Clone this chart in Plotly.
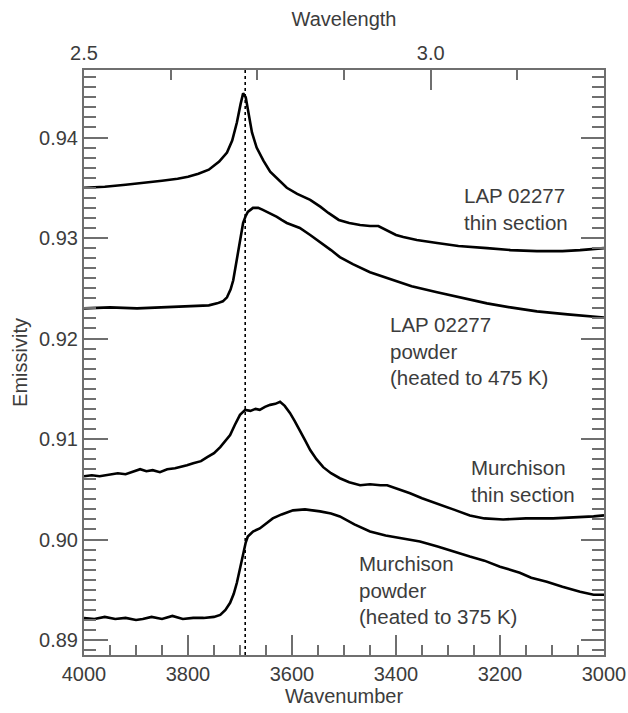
import plotly.graph_objects as go

# ---------------- data ----------------
lap_ts_wn = [4000, 3960, 3920, 3880, 3850, 3820, 3800, 3780, 3760, 3740, 3725, 3715, 3706, 3699,
             3694, 3689, 3684, 3677, 3668, 3655, 3642, 3625, 3610, 3590, 3565, 3545, 3530, 3510,
             3490, 3469, 3450, 3434, 3420, 3400, 3386, 3360, 3321, 3280, 3225, 3180, 3129, 3080,
             3046, 3020, 3000]
lap_ts_em = [0.9350, 0.9351, 0.9353, 0.9355, 0.9357, 0.9359, 0.9361, 0.9364, 0.9368, 0.9376, 0.9385,
             0.9397, 0.9415, 0.9433, 0.9444, 0.9440, 0.9425, 0.9405, 0.9390, 0.9377, 0.9366, 0.9357,
             0.9350, 0.9344, 0.9338, 0.9331, 0.9325, 0.9318, 0.9315, 0.9313, 0.9312, 0.9312, 0.9308,
             0.9303, 0.9301, 0.9298, 0.9295, 0.9292, 0.9290, 0.9288, 0.9287, 0.9287, 0.9288, 0.9289,
             0.9290]

lap_pw_wn = [4000, 3950, 3898, 3850, 3790, 3760, 3744, 3733, 3725, 3718, 3713, 3708, 3704, 3698,
             3694, 3689, 3685, 3675, 3665, 3656, 3640, 3629, 3620, 3610, 3600, 3585, 3565, 3546,
             3525, 3508, 3483, 3450, 3417, 3370, 3321, 3270, 3225, 3180, 3129, 3070, 3000]
lap_pw_em = [0.9230, 0.9231, 0.9230, 0.9231, 0.9232, 0.9233, 0.9235, 0.9237, 0.9241, 0.9249, 0.9258,
             0.9272, 0.9285, 0.9303, 0.9315, 0.9322, 0.9326, 0.9330, 0.9330, 0.9328, 0.9324, 0.9321,
             0.9318, 0.9315, 0.9313, 0.9310, 0.9303, 0.9296, 0.9288, 0.9281, 0.9274, 0.9266, 0.9260,
             0.9252, 0.9246, 0.9240, 0.9235, 0.9231, 0.9227, 0.9224, 0.9221]

mur_ts_wn = [4000, 3985, 3970, 3950, 3935, 3920, 3905, 3892, 3880, 3868, 3854, 3840, 3825, 3815,
             3802, 3790, 3775, 3763, 3750, 3738, 3728, 3719, 3710, 3700, 3690, 3680, 3670, 3662,
             3652, 3642, 3632, 3623, 3614, 3604, 3595, 3585, 3575, 3565, 3553, 3540, 3525, 3508,
             3490, 3469, 3450, 3430, 3417, 3395, 3373, 3350, 3321, 3290, 3258, 3230, 3194, 3150,
             3098, 3050, 3020, 3000]
mur_ts_em = [0.9063, 0.9064, 0.9063, 0.9065, 0.9066, 0.9065, 0.9068, 0.9070, 0.9068, 0.9069, 0.9067,
             0.9070, 0.9071, 0.9072, 0.9074, 0.9076, 0.9078, 0.9082, 0.9086, 0.9092, 0.9098, 0.9104,
             0.9114, 0.9124, 0.9129, 0.9128, 0.9130, 0.9129, 0.9132, 0.9134, 0.9135, 0.9137, 0.9133,
             0.9126, 0.9118, 0.9109, 0.9099, 0.9089, 0.9080, 0.9072, 0.9066, 0.9061, 0.9057, 0.9054,
             0.9055, 0.9054, 0.9054, 0.9050, 0.9046, 0.9041, 0.9036, 0.9030, 0.9024, 0.9021, 0.9020,
             0.9021, 0.9021, 0.9022, 0.9023, 0.9024]

mur_pw_wn = [4000, 3980, 3960, 3940, 3920, 3900, 3887, 3870, 3850, 3830, 3810, 3790, 3770, 3750,
             3738, 3728, 3719, 3712, 3706, 3700, 3694, 3689, 3685, 3675, 3662, 3650, 3637, 3620,
             3598, 3575, 3555, 3546, 3525, 3508, 3480, 3450, 3420, 3390, 3354, 3320, 3290, 3258,
             3230, 3200, 3162, 3140, 3125, 3110, 3080, 3046, 3020, 3000]
mur_pw_em = [0.8922, 0.8921, 0.8923, 0.8921, 0.8922, 0.8920, 0.8921, 0.8923, 0.8921, 0.8924, 0.8921,
             0.8922, 0.8922, 0.8923, 0.8925, 0.8930, 0.8937, 0.8946, 0.8957, 0.8972, 0.8987, 0.8997,
             0.9003, 0.9008, 0.9011, 0.9016, 0.9021, 0.9025, 0.9029, 0.9030, 0.9029, 0.9028, 0.9026,
             0.9023, 0.9015, 0.9008, 0.9004, 0.9001, 0.8998, 0.8993, 0.8988, 0.8983, 0.8979, 0.8973,
             0.8967, 0.8962, 0.8960, 0.8958, 0.8953, 0.8948, 0.8945, 0.8945]

series_names = ["LAP 02277 thin section", "LAP 02277 powder", "Murchison thin section", "Murchison powder"]

label_texts = ["LAP 02277<br>thin section",
               "LAP 02277<br>powder<br>(heated to 475 K)",
               "Murchison<br>thin section",
               "Murchison<br>powder<br>(heated to 375 K)"]
label_wn = [3273, 3415, 3260, 3475]
label_em = [0.9329, 0.9188, 0.90582, 0.8950]

reference_wn = 3690

wn_ticks = [4000, 3800, 3600, 3400, 3200, 3000]
wn_minor_step = 50
em_ticks = [0.89, 0.90, 0.91, 0.92, 0.93, 0.94]
em_minor_step = 0.001
wl_ticks = [2.5, 3.0]
wl_minor_per_major = 4

x_range = [4000, 3000]
y_range = [0.88851, 0.94672]

# ---------------- derived tick positions ----------------
wn_minor = [w for w in range(x_range[0], x_range[1] - 1, -wn_minor_step) if w not in wn_ticks]
n_em = int(round((y_range[1] - y_range[0]) / em_minor_step)) + 2
em_minor = []
for i in range(n_em):
    v = round(0.888 + i * em_minor_step, 3)
    if y_range[0] <= v <= y_range[1] and all(abs(v - t) > 1e-9 for t in em_ticks):
        em_minor.append(v)
wl_pos = [10000.0 / w for w in wl_ticks]
step = (wl_pos[0] - wl_pos[1]) / wl_minor_per_major
wl_minor = []
v = wl_pos[0] - step
while v >= x_range[1] - 1e-6:
    if abs(v - wl_pos[1]) > 1e-6:
        wl_minor.append(v)
    v -= step

# ---------------- figure ----------------
AX = "#6f6f6f"
TXT = "#3c3c3c"
FONT = "Arial, Liberation Sans, sans-serif"

fig = go.Figure()
for wn, em, name in [(lap_ts_wn, lap_ts_em, series_names[0]),
                     (lap_pw_wn, lap_pw_em, series_names[1]),
                     (mur_ts_wn, mur_ts_em, series_names[2]),
                     (mur_pw_wn, mur_pw_em, series_names[3])]:
    fig.add_trace(go.Scatter(x=wn, y=em, mode="lines", name=name,
                             line=dict(color="black", width=2.6), showlegend=False))

# carrier traces for the extra tick axes
for xa, ya in [("x2", "y"), ("x3", "y"), ("x4", "y"), ("x", "y2"), ("x", "y3"), ("x", "y4")]:
    fig.add_trace(go.Scatter(x=[], y=[], xaxis=xa, yaxis=ya, showlegend=False, hoverinfo="skip"))

fig.add_trace(go.Scatter(x=[reference_wn, reference_wn], y=y_range, mode="lines",
                         line=dict(color="black", width=1.6, dash="dot"), showlegend=False))

for t, xw, ye in zip(label_texts, label_wn, label_em):
    fig.add_annotation(x=xw, y=ye, text=t, showarrow=False, xanchor="left", yanchor="middle",
                       align="left", font=dict(size=20.5, color=TXT, family=FONT))

common = dict(showgrid=False, zeroline=False, tickcolor=AX, tickwidth=1.8, ticks="inside",
              automargin=False)
tf = dict(size=20, color=TXT)

fig.update_layout(
    width=628, height=713,
    margin=dict(l=84, r=24, t=70, b=58),
    paper_bgcolor="white", plot_bgcolor="white",
    font=dict(family=FONT, size=20, color=TXT),
    # bottom: wavenumber
    xaxis=dict(range=x_range, tickmode="array", tickvals=wn_ticks,
               ticktext=[str(t) for t in wn_ticks], ticklen=20,
               showline=True, linecolor=AX, linewidth=2, mirror=False, tickfont=tf,
               title=dict(text="Wavenumber", standoff=0, font=tf), **common),
    xaxis3=dict(range=x_range, overlaying="x", side="bottom", anchor="y",
                tickmode="array", tickvals=wn_minor, ticklen=10, showticklabels=False,
                showline=False, **common),
    # top: wavelength
    xaxis2=dict(range=x_range, overlaying="x", side="top", anchor="y",
                tickmode="array", tickvals=wl_pos, ticktext=[f"{w:.1f}" for w in wl_ticks],
                ticklen=20, showline=True, linecolor=AX, linewidth=2, tickfont=tf,
                title=dict(text="Wavelength", standoff=10, font=tf), **common),
    xaxis4=dict(range=x_range, overlaying="x", side="top", anchor="y",
                tickmode="array", tickvals=wl_minor, ticklen=10, showticklabels=False,
                showline=False, **common),
    # left: emissivity
    yaxis=dict(range=y_range, tickmode="array", tickvals=em_ticks,
               ticktext=[f"{t:.2f}" for t in em_ticks], ticklen=24,
               showline=True, linecolor=AX, linewidth=2, mirror=False, tickfont=tf,
               title=dict(text="Emissivity", standoff=6, font=tf), **common),
    yaxis2=dict(range=y_range, overlaying="y", side="left", anchor="x",
                tickmode="array", tickvals=em_minor, ticklen=12, showticklabels=False,
                showline=False, **common),
    # right: mirrored ticks
    yaxis3=dict(range=y_range, overlaying="y", side="right", anchor="x",
                tickmode="array", tickvals=em_ticks, ticklen=23, showticklabels=False,
                showline=True, linecolor=AX, linewidth=2, **common),
    yaxis4=dict(range=y_range, overlaying="y", side="right", anchor="x",
                tickmode="array", tickvals=em_minor, ticklen=12, showticklabels=False,
                showline=False, **common),
)

fig.write_html("out.html")
